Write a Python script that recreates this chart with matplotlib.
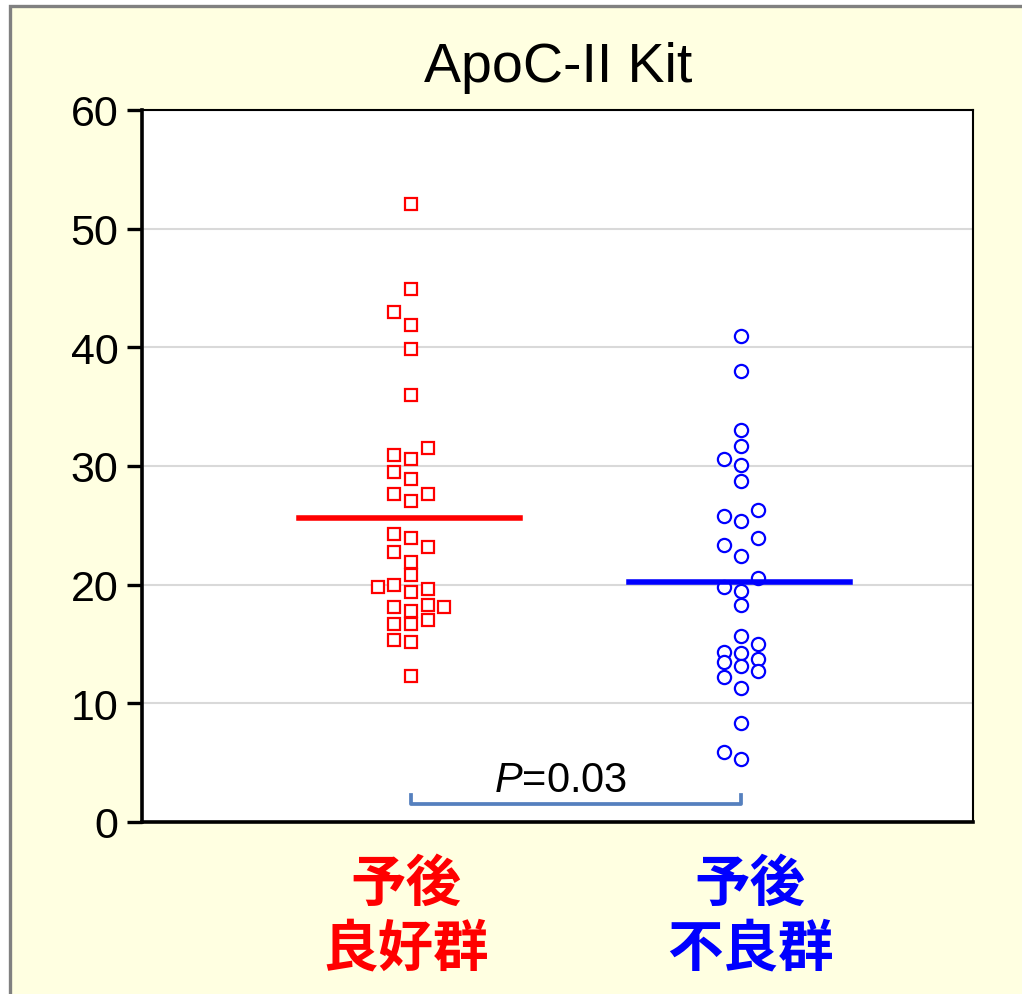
import numpy as np
import matplotlib
matplotlib.use("Agg")
import matplotlib.pyplot as plt
from matplotlib.patches import Rectangle

plt.rcParams['font.family'] = ['Liberation Sans', 'DejaVu Sans']
plt.rcParams['mathtext.fontset'] = 'custom'
plt.rcParams['mathtext.it'] = 'Liberation Sans:italic'
plt.rcParams['mathtext.rm'] = 'Liberation Sans'

# donnees
titre = "ApoC-II Kit"
groupes = [["予後", "良好群"], ["予後", "不良群"]]

bon_val = [52.1, 44.9, 43.0, 41.9, 39.85, 36.0, 31.5, 30.95, 30.56, 29.49,
           28.9, 27.63, 27.63, 27.07, 24.26, 23.9, 23.17, 22.77, 21.88, 20.81,
           19.83, 19.99, 19.40, 19.63, 18.11, 17.78, 18.31, 18.11, 17.02, 16.65,
           16.65, 15.36, 15.14, 12.33]
bon_col = [0, 0, -1, 0, 0, 0, 1, -1, 0, -1,
           0, -1, 1, 0, -1, 0, 1, -1, 0, 0,
           -2, -1, 0, 1, -1, 0, 1, 2, 1, -1,
           0, -1, 0, 0]
bon_moy = 25.64

mauv_val = [40.97, 38.02, 33.02, 31.70, 30.58, 30.08, 28.70, 26.28, 25.75, 25.38,
            23.90, 23.34, 22.38, 20.56, 19.77, 19.44, 18.31, 15.70, 14.97, 14.30,
            14.21, 13.45, 13.12, 13.73, 12.72, 12.24, 11.29, 8.31, 5.87, 5.31]
mauv_col = [0, 0, 0, 0, -1, 0, 0, 1, -1, 0,
            1, -1, 0, 1, -1, 0, 0, 0, 1, -1,
            0, -1, 0, 1, 1, -1, 0, 0, -1, 0]
mauv_moy = 20.25

p_texte = "$P$=0.03"
y_ticks = [0, 10, 20, 30, 40, 50, 60]

pas = 0.0503  # largeur d'une colonne de points

fig = plt.figure(figsize=(10.22, 9.95), dpi=100, facecolor='white')
# cadre creme
fig.patches.append(Rectangle((10 / 1022, -0.05), 1.05, 1.043, transform=fig.transFigure,
                             facecolor='#FFFFE1', edgecolor='#808080', linewidth=2.4, zorder=-1))

ax = fig.add_axes([0.1389, 0.1729, 0.8131, 0.7156])
ax.set_facecolor('white')

x1 = 1 + pas * np.array(bon_col)
x2 = 2 + pas * np.array(mauv_col)
ax.plot(x1, bon_val, 's', ms=9, mfc='white', mec='#FF0000', mew=1.6, ls='none', zorder=3)
ax.plot(x2, mauv_val, 'o', ms=9.5, mfc='white', mec='#0000FF', mew=1.6, ls='none', zorder=3)

ax.plot([1 - 0.34, 1 + 0.33], [bon_moy, bon_moy], color='#FF0000', lw=4, zorder=4)
ax.plot([2 - 0.34, 2 + 0.33], [mauv_moy, mauv_moy], color='#0000FF', lw=4, zorder=4)

# crochet P
ax.plot([1, 1, 2, 2], [2.3, 1.5, 1.5, 2.3], color='#5580BE', lw=2.7, zorder=2)
ax.text(1.455, 2.6, p_texte, ha='center', va='baseline', fontsize=30)

ax.set_xlim(0.185, 2.703)
ax.set_ylim(0, 60)
ax.set_yticks(y_ticks)
ax.set_yticklabels([str(t) for t in y_ticks], fontsize=31)
ax.set_xticks([])
ax.tick_params(axis='y', direction='out', length=11, width=2.4, pad=6)
ax.yaxis.grid(True, color='#D9D9D9', lw=1.5)
ax.set_axisbelow(True)

ax.spines['left'].set_linewidth(2.6)
ax.spines['bottom'].set_linewidth(2.6)
ax.spines['top'].set_linewidth(1.5)
ax.spines['right'].set_linewidth(1.5)

fig.text(0.546, 1 - 82 / 995, titre, ha='center', va='baseline', fontsize=40)

couleurs = ['#FF0000', '#0000FF']
x_lab = [406 / 1022, 750 / 1022]
for g, c, xl in zip(groupes, couleurs, x_lab):
    fig.text(xl, 1 - 885 / 995, g[0], ha='center', va='center', fontsize=40, color=c,
             family=['Noto Sans CJK JP'], weight='bold')
    fig.text(xl, 1 - 950 / 995, g[1], ha='center', va='center', fontsize=40, color=c,
             family=['Noto Sans CJK JP'], weight='bold')

fig.savefig('out.png', dpi=100)
